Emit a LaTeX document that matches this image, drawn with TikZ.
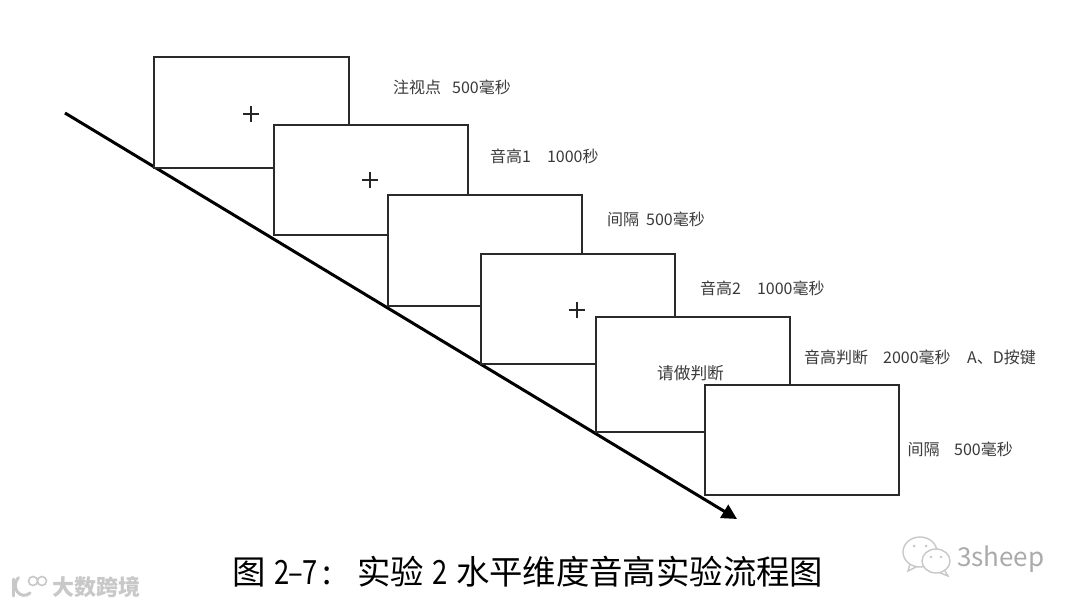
\documentclass[tikz,border=0pt]{standalone}
\usepackage{fontspec}
\setmainfont{Noto Sans CJK SC}
\usetikzlibrary{arrows.meta}
\definecolor{boxgray}{HTML}{2A2A2A}
\definecolor{labelgray}{HTML}{3A3A3A}
\definecolor{markgray}{HTML}{C8C8C8}
\newcommand{\hw}[1]{\makebox[14pt][c]{\scalebox{0.82}[1]{#1}}}
\tikzset{
  trial/.style={draw=boxgray,fill=white,line width=1.8pt,outer sep=0pt,minimum width=194pt,minimum height=110pt,inner sep=0pt,anchor=north west},
  steplabel/.style={text=labelgray,font=\fontsize{16}{18}\selectfont,inner sep=0pt,anchor=west},
  crossmark/.style={draw=black!85,line width=1.1pt},
  watermark/.style={text=markgray,inner sep=0pt,anchor=west},
  markline/.style={draw=markgray,line width=1.4pt,fill=white}
}
\begin{document}
\begin{tikzpicture}[x=1pt,y=-1pt]
\useasboundingbox (0,0) rectangle (1080,607);
\fill[white] (0,0) rectangle (1080,607);
\coordinate (axisstart) at (65,113);
\coordinate (axisend) at (737,519);
\draw[line width=3pt,black,-{Triangle[length=15pt,width=15pt]}] (axisstart) -- (axisend);
\node[trial,minimum width=195pt,minimum height=111pt] (b1) at (154,57) {};
\node[trial] (b2) at (274,125) {};
\node[trial,minimum height=111pt] (b3) at (388,195) {};
\node[trial] (b4) at (481,254) {};
\node[trial,minimum height=115pt,line width=1.5pt] (b5) at (596,317) {};
\node[trial] (b6) at (705,385) {};
\draw[crossmark] (243,114) -- (259,114) (251,106) -- (251,122);
\draw[crossmark] (362,180) -- (378,180) (370,172) -- (370,188);
\draw[crossmark] (569,310) -- (585,310) (577,302) -- (577,318);
\node[text=labelgray,font=\fontsize{16.7}{18}\selectfont,inner sep=0pt] (t5) at (690.5,373) {请做判断};
\node[steplabel] (l1) at (393,87) {注视点\hspace{11pt}500毫秒};
\node[steplabel] (l2) at (490,156) {音高1\hspace{16pt}1000秒};
\node[steplabel] (l3) at (607,219) {间隔\hspace{7pt}500毫秒};
\node[steplabel] (l4) at (700,288) {音高2\hspace{16pt}1000毫秒};
\node[steplabel] (l5) at (804,357) {音高判断\hspace{15pt}2000毫秒\hspace{16.5pt}A、D按键};
\node[steplabel] (l6) at (907.5,449) {间隔\hspace{14.5pt}500毫秒};
\node[text=black,font=\fontsize{33.4}{36}\selectfont,inner sep=0pt,anchor=west] (title) at (232,572) {图\hspace{9pt}\hw{2}\hw{–}\hw{7}\makebox[40.6pt][l]{\hspace{6pt}:}实验\hspace{9pt}\hw{2}\hspace{9pt}水平维度音高实验流程图};
% watermark left
\draw[draw=markgray,line width=3pt,line cap=round] (13,579) -- (13,596);
\draw[draw=markgray,line width=3pt,line cap=round] (30,593) arc (-50:-230:9pt and 10pt);
\draw[draw=markgray,line width=1.6pt] (33,581) circle (4.5pt) (42,581) circle (4.5pt);
\node[watermark,font=\fontsize{22}{24}\bfseries\selectfont] (wm1) at (52,587) {大数跨境};
% watermark right
\draw[markline] (910,564) -- (908,571) -- (918,566);
\draw[markline] (920,552) ellipse (17pt and 15pt);
\draw[markline] (945,571) -- (948,576) -- (938,572);
\draw[markline] (936,561) ellipse (14pt and 12pt);
\fill[markgray] (914,546) circle (1.5pt) (926,546) circle (1.5pt) (931,557) circle (1.3pt) (941,557) circle (1.3pt);
\node[watermark,font=\fontsize{26}{28}\selectfont,text=markgray!85!black] (wm2) at (957,559) {3sheep};
\end{tikzpicture}
\end{document}
